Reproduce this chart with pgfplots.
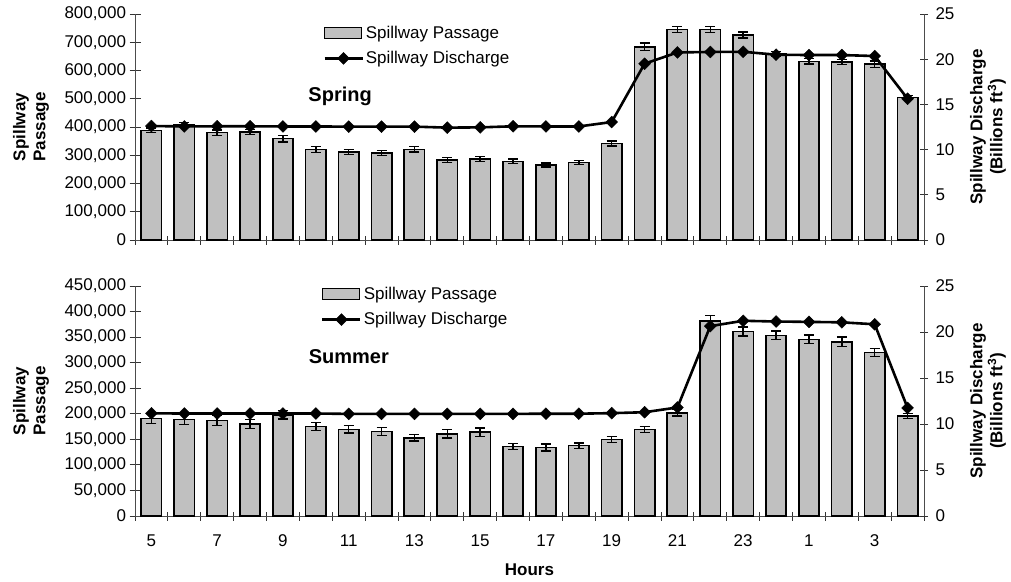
\documentclass[border=0pt]{standalone}
\usepackage{fontspec}
\setmainfont{Liberation Sans}
\usepackage{pgfplots}
\pgfplotsset{compat=1.18}
\definecolor{barfill}{RGB}{192,192,192}
\pgfplotsset{
  myframe/.style={
    scale only axis, width=789pt, xmin=0.5, xmax=24.5, ymin=0,
    tick align=center, major tick length=11pt, minor tick length=9pt,
    axis line style={black!70, line width=1pt},
    every tick/.append style={black!80, line width=1pt},
    tick label style={font=\fontsize{17}{20}\selectfont, black},
    label style={font=\bfseries\fontsize{17}{20}\selectfont, align=center},
    /pgf/number format/assume math mode=true,
    scaled y ticks=false,
    y tick label style={/pgf/number format/.cd, fixed, 1000 sep={,}, /tikz/.cd},
  },
  leftax/.style={myframe, axis y line*=left, axis x line*=bottom,
    xtick={1,3,...,23}, minor xtick={0.5,1.5,...,24.5},
    every major x tick/.append style={draw=none},
    x tick label style={yshift=-10pt},
    ylabel={Spillway\\Passage},
    ylabel style={at={(axis description cs:-0.1318,0.5)}, anchor=center},
    legend style={draw=none, fill=none, inner sep=0pt, row sep=8pt,
      font=\fontsize{17}{20}\selectfont, legend cell align=left},
  },
  rightax/.style={myframe, axis y line*=right, axis x line=none,
    major tick length=8pt,
    ymax=25, ytick={0,5,...,25},
    y tick label style={xshift=4pt},
    ylabel={Spillway Discharge\\(Billions ft\textsuperscript{3})},
    ylabel style={at={(axis description cs:1.0811,0.5)}, anchor=center},
  },
  barplot/.style={ybar, bar width=20.4pt, fill=barfill, draw=black, line width=1.6pt,
    error bars/y dir=both, error bars/y explicit,
    error bars/error bar style={line width=1.4pt, black},
    error bars/error mark options={rotate=90, mark size=5pt, line width=1.4pt, black}},
  lineplot/.style={black, line width=2.6pt, mark=square*, mark size=4.2pt,
    mark options={rotate=45, line width=0.4pt, fill=black}},
  barlegend/.style={legend image code/.code={\draw[fill=barfill, draw=black, line width=1.2pt] (0pt,-5.5pt) rectangle (37pt,5.5pt);}},
  linelegend/.style={legend image code/.code={\draw[mark repeat=2, mark phase=2, ##1] plot coordinates {(0pt,0pt) (19pt,0pt) (38pt,0pt)};}},
}
\begin{document}
\begin{tikzpicture}
\path[use as bounding box] (0,0) rectangle (1011pt,-581pt);
% ---------------- Spring ----------------
\begin{axis}[leftax, at={(135pt,-240pt)}, anchor=south west, height=226pt,
  ymax=800000, ytick={0,100000,...,800000}, xticklabels={},
  legend style={at={(axis description cs:0.2383,0.958)}, anchor=north west}]
\addplot[barplot, barlegend] coordinates {
(1,388000) +- (0,8000)
(2,407000) +- (0,9000)
(3,380000) +- (0,9000)
(4,383000) +- (0,9000)
(5,359000) +- (0,12000)
(6,320000) +- (0,10000)
(7,311500) +- (0,9000)
(8,308000) +- (0,9000)
(9,321000) +- (0,10000)
(10,283000) +- (0,9000)
(11,287000) +- (0,9000)
(12,278500) +- (0,8000)
(13,266000) +- (0,7000)
(14,275000) +- (0,7000)
(15,341500) +- (0,9000)
(16,684000) +- (0,13000)
(17,744600) +- (0,11000)
(18,744600) +- (0,11000)
(19,725700) +- (0,10000)
(20,659000) +- (0,9000)
(21,632500) +- (0,9000)
(22,630000) +- (0,9000)
(23,622000) +- (0,11000)
(24,504000) +- (0,7000)
};
\addlegendentry{Spillway Passage}
\addlegendimage{lineplot, linelegend}
\addlegendentry{Spillway Discharge}
\node[font=\bfseries\fontsize{20}{24}\selectfont] at (rel axis cs:0.26,0.637) {Spring};
\end{axis}
\begin{axis}[rightax, at={(135pt,-240pt)}, anchor=south west, height=226pt]
\addplot[lineplot] coordinates {
(1,12.61) (2,12.56) (3,12.58) (4,12.58) (5,12.56) (6,12.56)
(7,12.54) (8,12.54) (9,12.54) (10,12.43) (11,12.46) (12,12.58)
(13,12.56) (14,12.56) (15,13.05) (16,19.5) (17,20.75) (18,20.8)
(19,20.82) (20,20.5) (21,20.46) (22,20.46) (23,20.35) (24,15.63)
};
\end{axis}
% ---------------- Summer ----------------
\begin{axis}[leftax, at={(135pt,-516pt)}, anchor=south west, height=230pt,
  ymax=450000, ytick={0,50000,...,450000},
  xticklabels={5,7,9,11,13,15,17,19,21,23,1,3},
  xlabel={Hours},
  xlabel style={at={(axis description cs:0.5,-0.2348)}, anchor=center},
  legend style={at={(axis description cs:0.2357,1.006)}, anchor=north west}]
\addplot[barplot, barlegend] coordinates {
(1,190600) +- (0,10000)
(2,189000) +- (0,10000)
(3,187000) +- (0,9500)
(4,180000) +- (0,9000)
(5,198000) +- (0,8500)
(6,175000) +- (0,8000)
(7,169600) +- (0,7500)
(8,165000) +- (0,8000)
(9,153000) +- (0,6500)
(10,161000) +- (0,8500)
(11,164000) +- (0,8500)
(12,136000) +- (0,6000)
(13,134000) +- (0,6500)
(14,137600) +- (0,5000)
(15,150000) +- (0,6000)
(16,169600) +- (0,6000)
(17,202000) +- (0,6000)
(18,382000) +- (0,10500)
(19,361000) +- (0,8500)
(20,353500) +- (0,8500)
(21,345700) +- (0,8500)
(22,341000) +- (0,9000)
(23,319600) +- (0,8000)
(24,195600) +- (0,4500)
};
\addlegendentry{Spillway Passage}
\addlegendimage{lineplot, linelegend}
\addlegendentry{Spillway Discharge}
\node[font=\bfseries\fontsize{20}{24}\selectfont] at (rel axis cs:0.271,0.691) {Summer};
\end{axis}
\begin{axis}[rightax, at={(135pt,-516pt)}, anchor=south west, height=230pt]
\addplot[lineplot] coordinates {
(1,11.16) (2,11.14) (3,11.14) (4,11.14) (5,11.14) (6,11.14)
(7,11.1) (8,11.1) (9,11.1) (10,11.1) (11,11.1) (12,11.1)
(13,11.12) (14,11.12) (15,11.18) (16,11.28) (17,11.8) (18,20.64)
(19,21.22) (20,21.14) (21,21.1) (22,21.05) (23,20.84) (24,11.75)
};
\end{axis}
\end{tikzpicture}
\end{document}
